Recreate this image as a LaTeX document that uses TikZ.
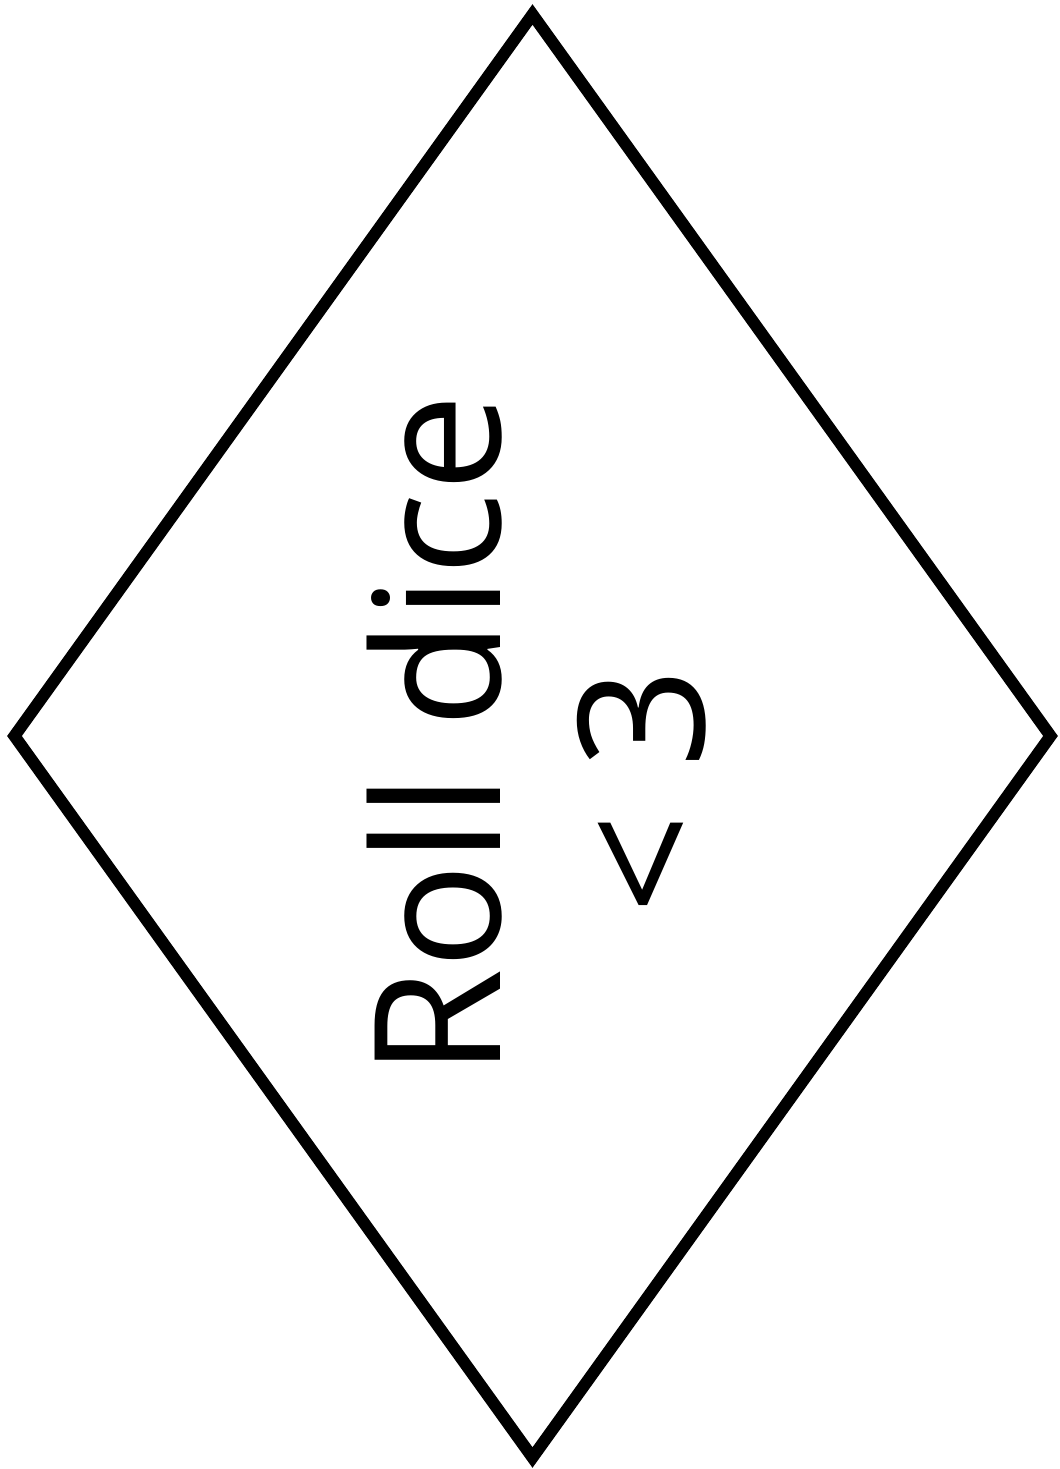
\documentclass[tikz,border=0pt]{standalone}
\usepackage{fontspec}
\setmainfont{Open Sans}
\usetikzlibrary{shapes.geometric}

\begin{document}
\begin{tikzpicture}[decision/.style={draw,diamond,line width=3.4pt,minimum width=10.41cm,minimum height=14.48cm,inner sep=0pt}]
\useasboundingbox (0,0) rectangle (10.6,14.69);
\node[decision] (test) at (5.325,7.33) {};
\node[rotate=90,align=center,font=\fontsize{50}{58}\selectfont] (label) at ([xshift=0.04cm]test.center) {Roll dice\\< 3\hspace*{1.1cm}};
\end{tikzpicture}
\end{document}
